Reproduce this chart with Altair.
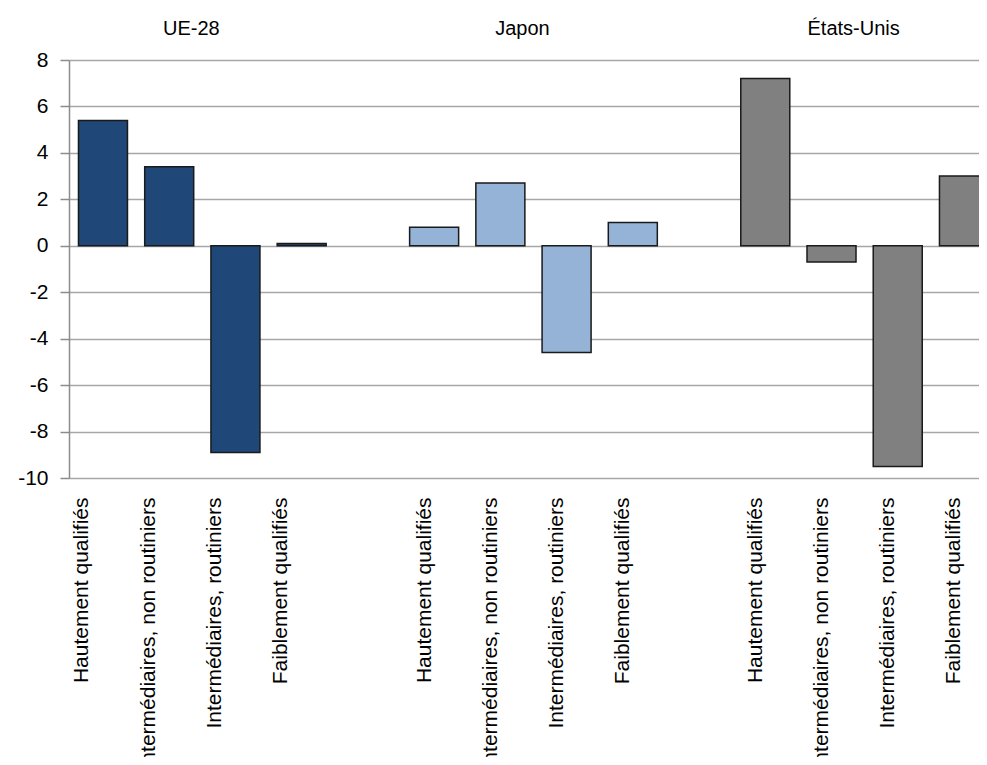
import json
import altair as alt
import pandas as pd

groups = ["UE-28", "Japon", "États-Unis"]
categories = [
    "Hautement qualifiés",
    "Intermédiaires, non routiniers",
    "Intermédiaires, routiniers",
    "Faiblement qualifiés",
]
values_ue = [5.4, 3.4, -8.9, 0.1]
values_jp = [0.8, 2.7, -4.6, 1.0]
values_us = [7.2, -0.7, -9.5, 3.0]
colors = ["#1F4778", "#95B3D7", "#808080"]

series = [values_ue, values_jp, values_us]
rows = []
slot_labels = []
for gi, (g, vals) in enumerate(zip(groups, series)):
    for ci, (c, v) in enumerate(zip(categories, vals)):
        rows.append({"group": g, "category": c, "value": v, "slot": gi * 5 + ci})
        slot_labels.append(c)
    if gi < len(groups) - 1:
        slot_labels.append("")
df = pd.DataFrame(rows)
n_slots = len(slot_labels)
bar_slots = [r["slot"] for r in rows]

titles = pd.DataFrame({"group": groups, "slot": [gi * 5 + 1.5 for gi in range(len(groups))]})

font = "Liberation Sans"
half_bar = 0.37

xscale = alt.Scale(domain=[-0.513, 13.227], nice=False, zero=False)
yscale = alt.Scale(domain=[-10, 8], nice=False)

bars = alt.Chart(df).transform_calculate(
    x0=f"datum.slot - {half_bar}", x1=f"datum.slot + {half_bar}"
).mark_bar(stroke="#1a1a1a", strokeWidth=1.5).encode(
    x=alt.X(
        "x0:Q",
        scale=xscale,
        axis=alt.Axis(
            title=None,
            values=bar_slots,
            domain=False,
            ticks=False,
            grid=False,
            labelAngle=270,
            labelAlign="right",
            labelBaseline="middle",
            labelPadding=19,
            labelOffset=alt.condition("datum.value < 4", alt.value(-21), alt.value(-10)),
            labelFont=font,
            labelFontSize=21,
            labelColor="#000000",
            labelOverlap=False,
            labelFlush=False,
            labelBound=False,
            labelLimit=400,
            labelExpr=json.dumps(slot_labels, ensure_ascii=False) + "[datum.value]",
        ),
    ),
    x2="x1:Q",
    y=alt.Y(
        "value:Q",
        scale=yscale,
        axis=alt.Axis(
            title=None,
            values=list(range(-10, 9, 2)),
            labelExpr="'' + datum.value",
            grid=True,
            gridColor="#a6a6a6",
            gridWidth=1.5,
            domainColor="#8c8c8c",
            domainWidth=1.5,
            tickColor="#8c8c8c",
            tickWidth=1.5,
            tickSize=9,
            labelPadding=12,
            labelFont=font,
            labelFontSize=21,
            labelColor="#000000",
        ),
    ),
    y2=alt.datum(0),
    color=alt.Color("group:N", scale=alt.Scale(domain=groups, range=colors), legend=None),
)

title_text = alt.Chart(titles).mark_text(
    font=font, fontSize=20, color="#000000", baseline="middle", align="center", dx=-11
).encode(
    x=alt.X("slot:Q", scale=xscale),
    y=alt.value(-31),
    text="group:N",
)

chart = alt.layer(bars, title_text).properties(
    width=910,
    height=418,
    autosize=alt.AutoSizeParams(type="none"),
    padding={"left": 61, "top": 52, "right": 0, "bottom": 279},
).configure_view(stroke=None).configure(background="white")

chart.save("out.html", embed_options={"renderer": "svg", "actions": False})
